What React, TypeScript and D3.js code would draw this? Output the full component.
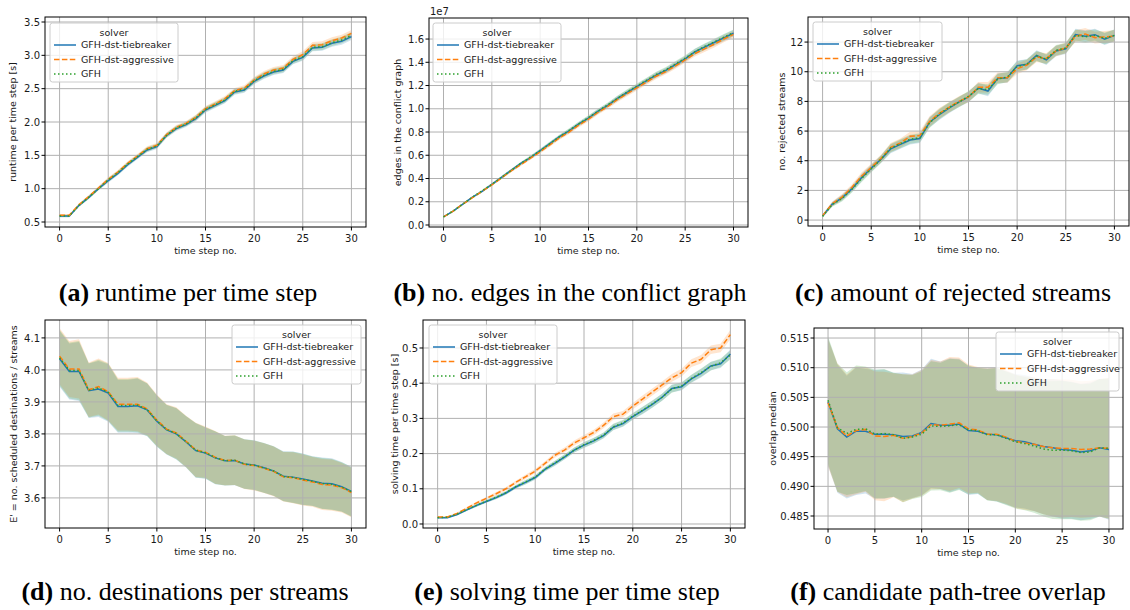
import * as d3 from 'd3';

const timeSteps = [0, 1, 2, 3, 4, 5, 6, 7, 8, 9, 10, 11, 12, 13, 14, 15, 16, 17, 18, 19, 20, 21, 22, 23, 24, 25, 26, 27, 28, 29, 30];
const solvers = ['GFH-dst-tiebreaker', 'GFH-dst-aggressive', 'GFH'];
const colors = ['#1f77b4', '#ff7f0e', '#2ca02c'];
const dashes = ['none', '5.5,2.4', '1.5,2.5'];
const xTicks = [0, 5, 10, 15, 20, 25, 30];

// (a) runtime per time step [s]
const runtimeTie = [0.59, 0.59, 0.75, 0.87, 1.0, 1.12, 1.23, 1.36, 1.47, 1.58, 1.63, 1.8, 1.9, 1.96, 2.05, 2.18, 2.25, 2.32, 2.45, 2.48, 2.61, 2.69, 2.75, 2.78, 2.91, 2.97, 3.11, 3.12, 3.18, 3.21, 3.28];
const runtimeAggr = [0.6, 0.6, 0.76, 0.88, 1.01, 1.14, 1.25, 1.38, 1.49, 1.6, 1.65, 1.81, 1.92, 1.98, 2.07, 2.2, 2.27, 2.35, 2.47, 2.51, 2.63, 2.72, 2.78, 2.81, 2.94, 3.01, 3.15, 3.16, 3.22, 3.26, 3.33];
const runtimeGfh = [0.59, 0.59, 0.75, 0.87, 1.0, 1.13, 1.24, 1.37, 1.48, 1.59, 1.64, 1.8, 1.91, 1.97, 2.06, 2.19, 2.26, 2.33, 2.46, 2.49, 2.62, 2.7, 2.76, 2.79, 2.92, 2.98, 3.12, 3.13, 3.19, 3.23, 3.3];
const runtimeSpread = [0.02, 0.02, 0.02, 0.025, 0.025, 0.03, 0.03, 0.03, 0.03, 0.035, 0.035, 0.035, 0.035, 0.035, 0.04, 0.04, 0.04, 0.04, 0.04, 0.04, 0.045, 0.045, 0.045, 0.045, 0.045, 0.05, 0.05, 0.05, 0.05, 0.05, 0.05];
const runtimeTicks = [0.5, 1.0, 1.5, 2.0, 2.5, 3.0, 3.5];

// (b) edges in the conflict graph (1e7)
const edgesTie = [0.07, 0.12, 0.18, 0.24, 0.29, 0.35, 0.41, 0.47, 0.53, 0.58, 0.64, 0.7, 0.76, 0.81, 0.87, 0.92, 0.98, 1.03, 1.09, 1.14, 1.19, 1.24, 1.29, 1.33, 1.38, 1.43, 1.49, 1.53, 1.57, 1.61, 1.65];
const edgesAggr = [0.07, 0.12, 0.18, 0.235, 0.29, 0.345, 0.405, 0.465, 0.52, 0.575, 0.63, 0.69, 0.75, 0.8, 0.86, 0.91, 0.97, 1.02, 1.08, 1.13, 1.18, 1.23, 1.28, 1.32, 1.37, 1.42, 1.475, 1.515, 1.555, 1.6, 1.64];
const edgesGfh = [0.07, 0.12, 0.18, 0.24, 0.295, 0.35, 0.41, 0.47, 0.53, 0.585, 0.64, 0.7, 0.76, 0.815, 0.87, 0.925, 0.98, 1.035, 1.09, 1.145, 1.195, 1.245, 1.295, 1.335, 1.385, 1.435, 1.49, 1.535, 1.575, 1.615, 1.655];
const edgesSpread = [0.005, 0.006, 0.007, 0.008, 0.009, 0.01, 0.011, 0.012, 0.013, 0.014, 0.015, 0.016, 0.017, 0.018, 0.018, 0.019, 0.02, 0.02, 0.021, 0.022, 0.022, 0.023, 0.024, 0.024, 0.025, 0.025, 0.026, 0.027, 0.027, 0.028, 0.028];
const edgesTicks = [0.0, 0.2, 0.4, 0.6, 0.8, 1.0, 1.2, 1.4, 1.6];

// (c) no. rejected streams
const rejectedTie = [0.27, 1.08, 1.5, 2.1, 2.85, 3.5, 4.1, 4.8, 5.1, 5.4, 5.5, 6.6, 7.1, 7.55, 7.95, 8.3, 8.9, 8.7, 9.55, 9.6, 10.4, 10.5, 11.1, 10.8, 11.4, 11.55, 12.5, 12.4, 12.5, 12.2, 12.45];
const rejectedAggr = [0.3, 1.1, 1.55, 2.2, 2.95, 3.55, 4.15, 4.9, 5.2, 5.65, 5.7, 6.65, 7.2, 7.6, 8.0, 8.3, 8.95, 8.95, 9.6, 9.6, 10.2, 10.45, 11.0, 10.9, 11.4, 11.6, 12.4, 12.55, 12.3, 12.35, 12.4];
const rejectedGfh = [0.25, 1.05, 1.45, 2.05, 2.8, 3.45, 4.1, 4.85, 5.15, 5.45, 5.55, 6.55, 7.15, 7.6, 7.95, 8.35, 8.85, 8.8, 9.5, 9.65, 10.35, 10.5, 11.05, 10.85, 11.45, 11.6, 12.45, 12.35, 12.45, 12.25, 12.45];
const rejectedSpread = [0.1, 0.15, 0.2, 0.2, 0.25, 0.25, 0.25, 0.3, 0.3, 0.3, 0.3, 0.35, 0.35, 0.35, 0.35, 0.35, 0.35, 0.35, 0.35, 0.35, 0.35, 0.35, 0.35, 0.35, 0.35, 0.35, 0.4, 0.4, 0.4, 0.4, 0.4];
const rejectedTicks = [0, 2, 4, 6, 8, 10, 12];

// (d) destinations per stream
const destTie = [4.035, 3.995, 3.995, 3.935, 3.94, 3.928, 3.886, 3.886, 3.888, 3.875, 3.84, 3.813, 3.8, 3.775, 3.748, 3.74, 3.725, 3.716, 3.717, 3.706, 3.703, 3.694, 3.684, 3.668, 3.665, 3.659, 3.653, 3.646, 3.644, 3.635, 3.62];
const destAggr = [4.043, 4.003, 4.003, 3.938, 3.948, 3.932, 3.893, 3.893, 3.893, 3.878, 3.843, 3.815, 3.803, 3.777, 3.75, 3.743, 3.727, 3.717, 3.718, 3.705, 3.701, 3.693, 3.683, 3.666, 3.663, 3.656, 3.65, 3.642, 3.64, 3.632, 3.617];
const destGfh = [4.038, 3.998, 3.998, 3.936, 3.944, 3.93, 3.889, 3.889, 3.89, 3.876, 3.841, 3.814, 3.801, 3.776, 3.749, 3.741, 3.726, 3.716, 3.718, 3.706, 3.702, 3.694, 3.684, 3.667, 3.664, 3.658, 3.652, 3.645, 3.642, 3.634, 3.619];
const destSpread = [0.0875, 0.0875, 0.0925, 0.085, 0.0875, 0.09, 0.0825, 0.0825, 0.085, 0.0825, 0.08, 0.0775, 0.08, 0.08, 0.085, 0.08, 0.0825, 0.0775, 0.0775, 0.0775, 0.0775, 0.0775, 0.0775, 0.0775, 0.08, 0.08, 0.0775, 0.08, 0.08, 0.0775, 0.0775];
const destTicks = [3.6, 3.7, 3.8, 3.9, 4.0, 4.1];

// (e) solving time per time step [s]
const solveTie = [0.018, 0.018, 0.027, 0.04, 0.053, 0.064, 0.075, 0.088, 0.105, 0.118, 0.132, 0.155, 0.172, 0.19, 0.21, 0.224, 0.236, 0.251, 0.275, 0.285, 0.305, 0.322, 0.34, 0.36, 0.385, 0.39, 0.412, 0.428, 0.449, 0.455, 0.483];
const solveAggr = [0.02, 0.02, 0.03, 0.045, 0.06, 0.073, 0.086, 0.1, 0.118, 0.134, 0.15, 0.172, 0.195, 0.21, 0.23, 0.245, 0.26, 0.28, 0.305, 0.312, 0.335, 0.355, 0.375, 0.395, 0.415, 0.43, 0.457, 0.468, 0.495, 0.5, 0.538];
const solveGfh = [0.018, 0.019, 0.028, 0.041, 0.053, 0.065, 0.076, 0.089, 0.106, 0.119, 0.133, 0.156, 0.173, 0.191, 0.21, 0.225, 0.237, 0.252, 0.276, 0.287, 0.306, 0.323, 0.341, 0.36, 0.384, 0.392, 0.413, 0.43, 0.448, 0.458, 0.48];
const solveSpread = [0.002, 0.002, 0.003, 0.003, 0.004, 0.004, 0.005, 0.005, 0.005, 0.006, 0.006, 0.006, 0.007, 0.007, 0.007, 0.008, 0.008, 0.008, 0.009, 0.009, 0.009, 0.01, 0.01, 0.01, 0.011, 0.011, 0.011, 0.012, 0.012, 0.012, 0.013];
const solveTicks = [0.0, 0.1, 0.2, 0.3, 0.4, 0.5];

// (f) candidate path-tree overlap median
const overlapTie = [0.5042, 0.4997, 0.4983, 0.4993, 0.4993, 0.4988, 0.4988, 0.4987, 0.4984, 0.4985, 0.4991, 0.5006, 0.5003, 0.5003, 0.5005, 0.4994, 0.4993, 0.4988, 0.4987, 0.4982, 0.4977, 0.4975, 0.4971, 0.4967, 0.4965, 0.4962, 0.4961, 0.4958, 0.496, 0.4965, 0.4962];
const overlapAggr = [0.5041, 0.4999, 0.4985, 0.4994, 0.4996, 0.4985, 0.4984, 0.4986, 0.4981, 0.4984, 0.499, 0.5004, 0.5003, 0.5005, 0.5007, 0.4997, 0.4995, 0.4988, 0.4988, 0.4983, 0.4976, 0.4973, 0.4971, 0.4967, 0.4965, 0.4964, 0.4964, 0.4962, 0.4963, 0.4965, 0.4964];
const overlapGfh = [0.5045, 0.4999, 0.4989, 0.4996, 0.4997, 0.4988, 0.4989, 0.4987, 0.4981, 0.4983, 0.4988, 0.5002, 0.5001, 0.5002, 0.5004, 0.4995, 0.4994, 0.4987, 0.4987, 0.4981, 0.4975, 0.4972, 0.4968, 0.4963, 0.4961, 0.4961, 0.496, 0.4957, 0.4958, 0.4965, 0.4964];
const overlapSpread = [0.01075, 0.0108, 0.01035, 0.01075, 0.0105, 0.01085, 0.0109, 0.01045, 0.0108, 0.01045, 0.0106, 0.0109, 0.01075, 0.0113, 0.011, 0.01085, 0.0106, 0.0111, 0.01125, 0.01125, 0.01125, 0.01125, 0.01125, 0.0114, 0.0116, 0.01165, 0.01155, 0.0115, 0.0115, 0.0116, 0.01185];
const overlapTicks = [0.485, 0.49, 0.495, 0.5, 0.505, 0.51, 0.515];

const SANS = 'DejaVu Sans, sans-serif';

type Box = { x0: number; x1: number; y0: number; y1: number };
type Legend = { x: number; y: number; w: number };

type PanelProps = {
  id: string;
  box: Box;
  yDomain: [number, number];
  yTicks: number[];
  fmt: string;
  series: number[][];
  spread: number[];
  ylabel: string;
  ylabelX: number;
  legend: Legend;
  offsetText?: string;
};

function Panel({ id, box, yDomain, yTicks, fmt, series, spread, ylabel, ylabelX, legend, offsetText }: PanelProps) {
  const x = d3.scaleLinear().domain([-1.5, 31.5]).range([box.x0, box.x1]);
  const y = d3.scaleLinear().domain(yDomain).range([box.y1, box.y0]);
  const f = d3.format(fmt);

  const line = d3.line<number>()
    .x((_, i) => x(timeSteps[i]))
    .y(d => y(d));
  const area = d3.area<number>()
    .x((_, i) => x(timeSteps[i]))
    .y0((d, i) => y(d - spread[i]))
    .y1((d, i) => y(d + spread[i]));

  const clipId = `clip-${id}`;
  const lh = 59;

  return (
    <g>
      <defs>
        <clipPath id={clipId}>
          <rect x={box.x0} y={box.y0} width={box.x1 - box.x0} height={box.y1 - box.y0} />
        </clipPath>
      </defs>

      <g clipPath={`url(#${clipId})`}>
        {series.map((s, k) => (
          <path key={'band' + k} d={area(s) || ''} fill={colors[k]} fillOpacity={0.2} stroke="none" />
        ))}
        {xTicks.map(t => (
          <line key={'gx' + t} x1={x(t)} x2={x(t)} y1={box.y0} y2={box.y1} stroke="#b0b0b0" strokeWidth={1} />
        ))}
        {yTicks.map(t => (
          <line key={'gy' + t} x1={box.x0} x2={box.x1} y1={y(t)} y2={y(t)} stroke="#b0b0b0" strokeWidth={1} />
        ))}
        {series.map((s, k) => (
          <path key={'line' + k} d={line(s) || ''} fill="none" stroke={colors[k]} strokeWidth={1.5}
            strokeDasharray={dashes[k]} />
        ))}
      </g>

      <rect x={box.x0} y={box.y0} width={box.x1 - box.x0} height={box.y1 - box.y0} fill="none" stroke="#000" strokeWidth={1} />

      {xTicks.map(t => (
        <g key={'xt' + t}>
          <line x1={x(t)} x2={x(t)} y1={box.y1} y2={box.y1 + 3.5} stroke="#000" strokeWidth={1} />
          <text x={x(t)} y={box.y1 + 15} textAnchor="middle" fontSize={10} fontFamily={SANS} fill="#1a1a1a">{t}</text>
        </g>
      ))}
      {yTicks.map(t => (
        <g key={'yt' + t}>
          <line x1={box.x0 - 3.5} x2={box.x0} y1={y(t)} y2={y(t)} stroke="#000" strokeWidth={1} />
          <text x={box.x0 - 5} y={y(t) + 3.6} textAnchor="end" fontSize={10} fontFamily={SANS} fill="#1a1a1a">{f(t)}</text>
        </g>
      ))}

      <text x={(box.x0 + box.x1) / 2} y={box.y1 + 27} textAnchor="middle" fontSize={9.5} fontFamily={SANS} fill="#1a1a1a">time step no.</text>
      <text transform={`translate(${ylabelX},${(box.y0 + box.y1) / 2}) rotate(-90)`} textAnchor="middle" dy="0.35em"
        fontSize={9.5} fontFamily={SANS} fill="#1a1a1a">{ylabel}</text>
      {offsetText && (
        <text x={box.x0 + 1} y={box.y0 - 3} fontSize={10} fontFamily={SANS} fill="#1a1a1a">{offsetText}</text>
      )}

      <g transform={`translate(${legend.x},${legend.y})`}>
        <rect x={0} y={0} width={legend.w} height={lh} rx={2.5} fill="#fff" fillOpacity={0.8} stroke="#cccccc" strokeWidth={1} />
        <text x={legend.w / 2} y={13} textAnchor="middle" fontSize={9.5} fontFamily={SANS} fill="#1a1a1a">solver</text>
        {solvers.map((name, k) => (
          <g key={name} transform={`translate(0,${22 + k * 14.5})`}>
            <line x1={4} x2={26} y1={0} y2={0} stroke={colors[k]} strokeWidth={1.5} strokeDasharray={dashes[k]} />
            <text x={31} y={3.4} fontSize={9.5} fontFamily={SANS} fill="#1a1a1a">{name}</text>
          </g>
        ))}
      </g>
    </g>
  );
}

function Caption({ x, y, letter, text }: { x: number; y: number; letter: string; text: string }) {
  return (
    <text x={x} y={y} textAnchor="middle" fontSize={26} fontFamily="Liberation Serif, Times New Roman, serif" fill="#000">
      <tspan fontWeight="bold">({letter})</tspan> {text}
    </text>
  );
}

export default function App() {
  return (
    <svg width={1130} height={610} style={{ position: 'absolute', left: 0, top: 0, background: '#fff' }}>
      <Panel id="a" box={{ x0: 45, x1: 366, y0: 17, y1: 227 }} yDomain={[0.425, 3.575]} yTicks={runtimeTicks} fmt=".1f"
        series={[runtimeTie, runtimeAggr, runtimeGfh]} spread={runtimeSpread}
        ylabel="runtime per time step [s]" ylabelX={13} legend={{ x: 50, y: 23, w: 128 }} />
      <Panel id="b" box={{ x0: 429, x1: 748, y0: 18, y1: 227 }} yDomain={[-0.0172, 1.781]} yTicks={edgesTicks} fmt=".1f"
        series={[edgesTie, edgesAggr, edgesGfh]} spread={edgesSpread}
        ylabel="edges in the conflict graph" ylabelX={398} legend={{ x: 433, y: 23, w: 128 }} offsetText="1e7" />
      <Panel id="c" box={{ x0: 808, x1: 1129, y0: 17, y1: 226 }} yDomain={[-0.4, 13.69]} yTicks={rejectedTicks} fmt="d"
        series={[rejectedTie, rejectedAggr, rejectedGfh]} spread={rejectedSpread}
        ylabel="no. rejected streams" ylabelX={782} legend={{ x: 813, y: 22, w: 129 }} />
      <Panel id="d" box={{ x0: 45, x1: 366, y0: 320, y1: 528 }} yDomain={[3.506, 4.156]} yTicks={destTicks} fmt=".1f"
        series={[destTie, destAggr, destGfh]} spread={destSpread}
        ylabel="E' = no. scheduled destinations / streams" ylabelX={14} legend={{ x: 232, y: 325, w: 129 }} />
      <Panel id="e" box={{ x0: 423, x1: 745, y0: 320, y1: 528 }} yDomain={[-0.0114, 0.5795]} yTicks={solveTicks} fmt=".1f"
        series={[solveTie, solveAggr, solveGfh]} spread={solveSpread}
        ylabel="solving time per time step [s]" ylabelX={395} legend={{ x: 429, y: 325, w: 128 }} />
      <Panel id="f" box={{ x0: 814, x1: 1123, y0: 328, y1: 529 }} yDomain={[0.48281, 0.51669]} yTicks={overlapTicks} fmt=".3f"
        series={[overlapTie, overlapAggr, overlapGfh]} spread={overlapSpread}
        ylabel="overlap median" ylabelX={773} legend={{ x: 996, y: 332, w: 123 }} />

      <Caption x={188} y={301} letter="a" text="runtime per time step" />
      <Caption x={570} y={301} letter="b" text="no. edges in the conflict graph" />
      <Caption x={953} y={301} letter="c" text="amount of rejected streams" />
      <Caption x={185} y={600} letter="d" text="no. destinations per streams" />
      <Caption x={567} y={600} letter="e" text="solving time per time step" />
      <Caption x={948} y={600} letter="f" text="candidate path-tree overlap" />
    </svg>
  );
}
